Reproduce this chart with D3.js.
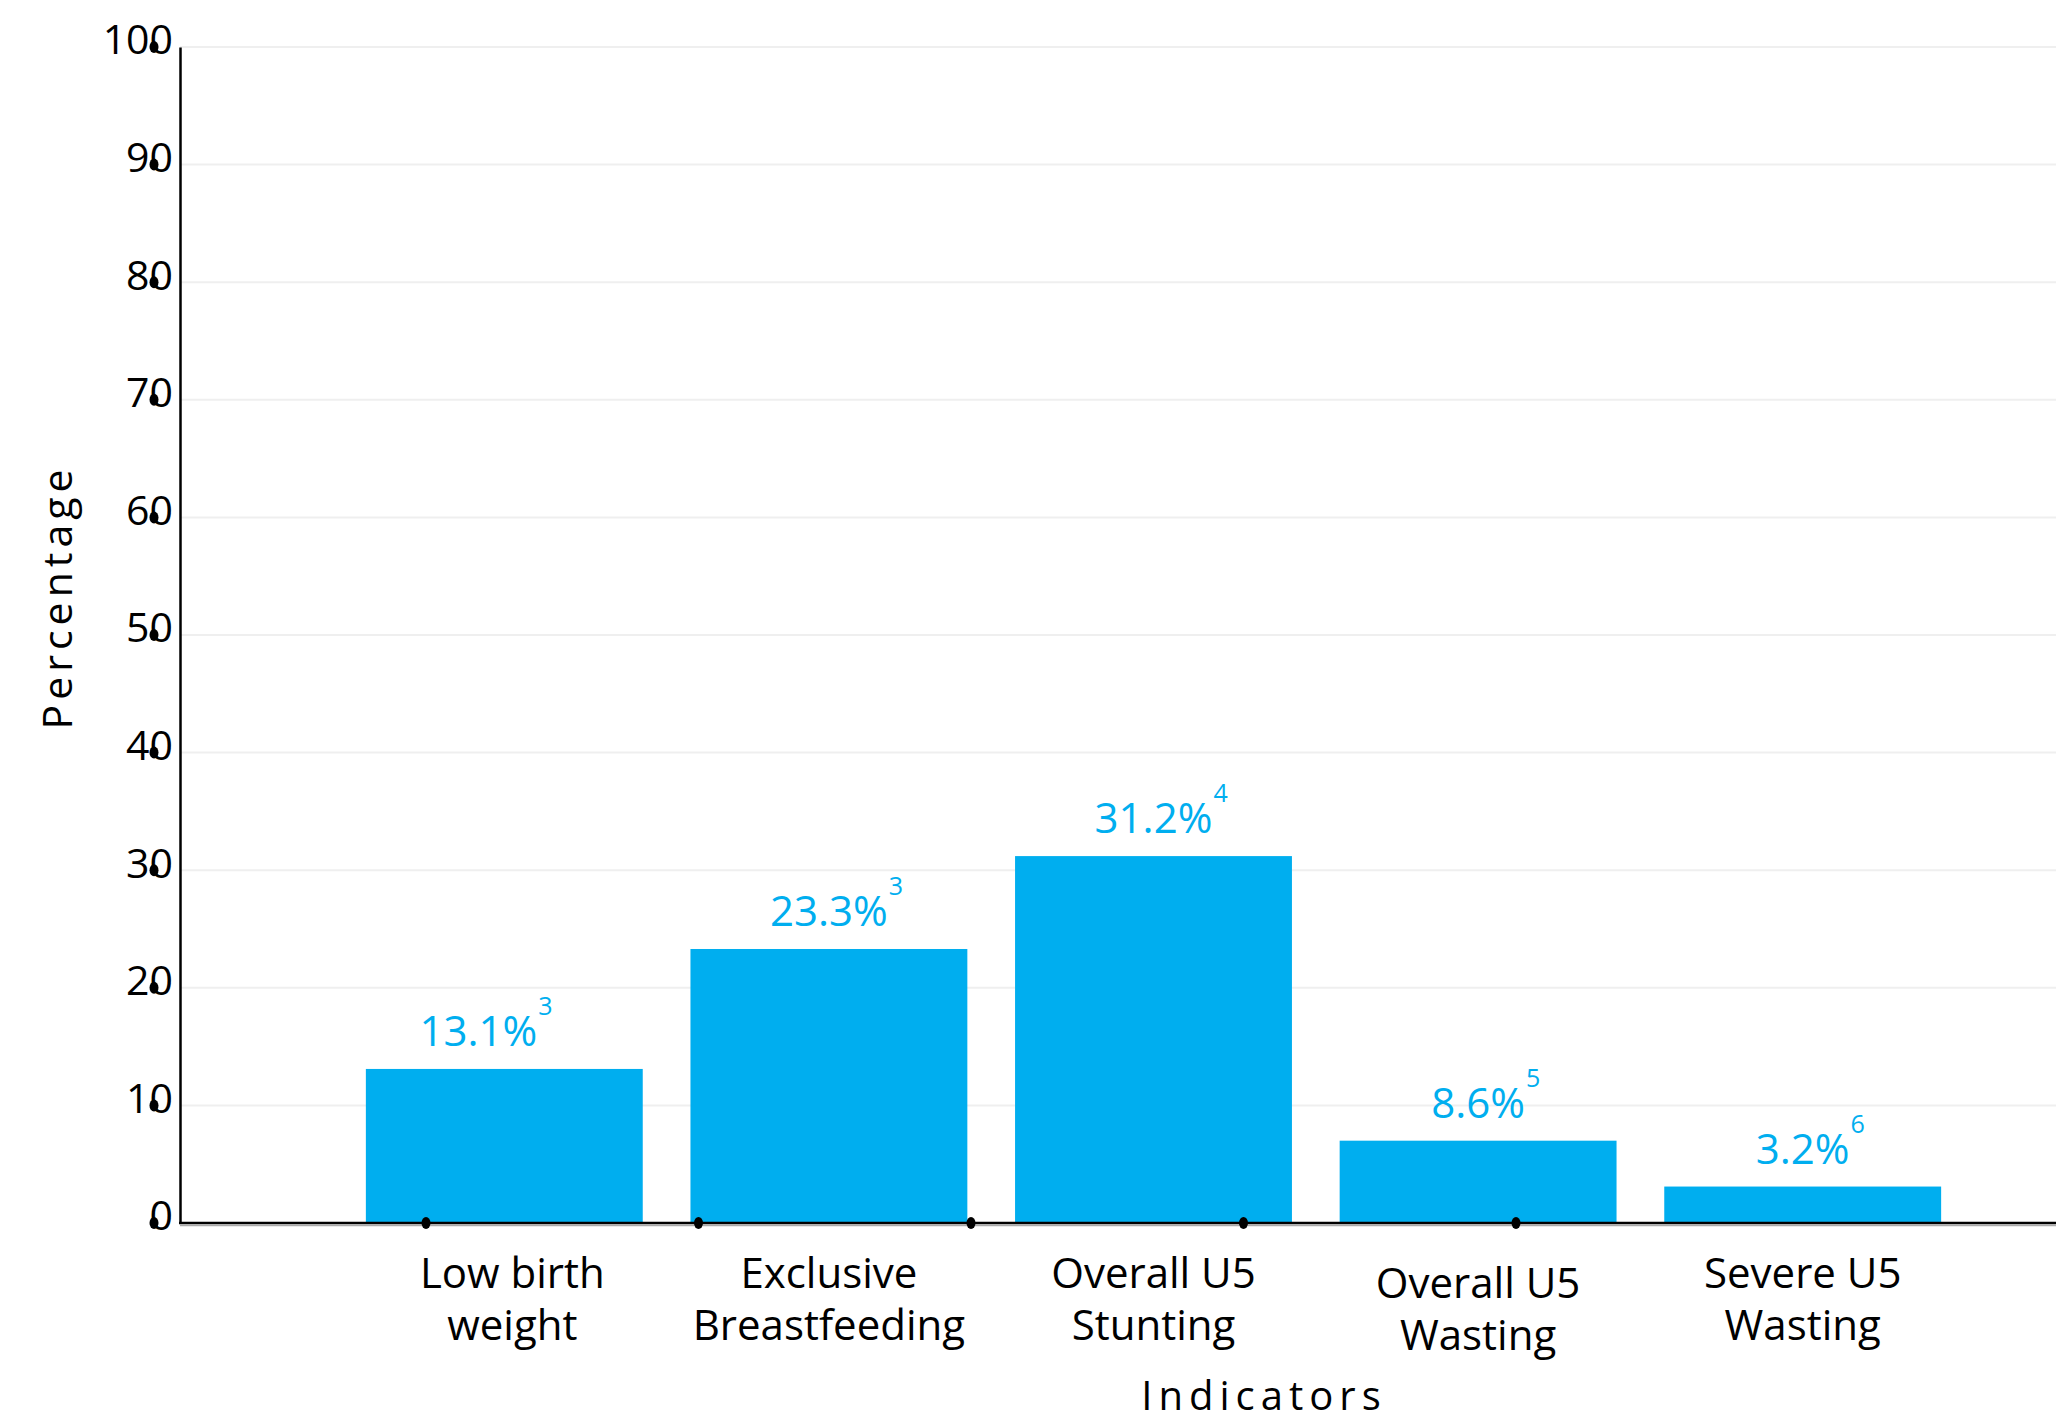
<!doctype html>
<html lang="en">
<head>
    <meta charset="utf-8">
    <title>Nutrition indicators</title>
    <script src="https://cdn.jsdelivr.net/npm/d3@7"></script>
    <style>
        body { margin: 0; background: #fff; }
        text { font-family: "Open Sans", sans-serif; }
    </style>
</head>
<body>
    <script>
    // data
    var categories = ["Low birth weight", "Exclusive Breastfeeding", "Overall U5 Stunting", "Overall U5 Wasting", "Severe U5 Wasting"];
    var categoryLines = [["Low birth", "weight"], ["Exclusive", "Breastfeeding"], ["Overall U5", "Stunting"], ["Overall U5", "Wasting"], ["Severe U5", "Wasting"]];
    var barValues = [13.1, 23.3, 31.2, 7.0, 3.1];
    var valueLabels = ["13.1%", "23.3%", "31.2%", "8.6%", "3.2%"];
    var footnotes = ["3", "3", "4", "5", "6"];
    var yTicks = [0, 10, 20, 30, 40, 50, 60, 70, 80, 90, 100];

    var blue = "#00AEEF";
    var left = 180, right = 2056;

    var svg = d3.select("body").append("svg")
            .attr("width", 2056).attr("height", 1421);

    var y = d3.scaleLinear().domain([0, 100]).range([1223, 47]);
    var x = d3.scaleBand().domain(categories).range([342, 1965])
            .paddingInner(0.147).paddingOuter(0.0735);
    // the odd tick dots on the x axis don't line up with the bars
    var xDots = d3.scalePoint().domain(categories).range([426, 1516]);

    // grid
    svg.append("g").selectAll("line")
        .data(yTicks.filter(function(d){ return d > 0; }))
        .join("line")
        .attr("x1", left).attr("x2", right)
        .attr("y1", function(d){ return y(d); })
        .attr("y2", function(d){ return y(d); })
        .attr("stroke", "#efefef").attr("stroke-width", 2);

    // bars
    svg.append("g").selectAll("rect")
        .data(barValues)
        .join("rect")
        .attr("x", function(d, i){ return x(categories[i]); })
        .attr("width", x.bandwidth())
        .attr("y", function(d){ return y(d); })
        .attr("height", function(d){ return y(0) - y(d); })
        .attr("fill", blue);

    // value labels + footnote numbers (first one sits a bit left in the original)
    function labelX(i) {
        return x(categories[i]) + x.bandwidth() / 2 + (i === 0 ? -26 : 0);
    }
    var labels = svg.append("g").selectAll("text")
        .data(barValues)
        .join("text")
        .attr("x", function(d, i){ return labelX(i); })
        .attr("y", function(d){ return y(d) - 23; })
        .attr("text-anchor", "middle")
        .attr("font-size", 42)
        .attr("fill", blue)
        .text(function(d, i){ return valueLabels[i]; });

    labels.each(function(d, i){
        var w = this.getComputedTextLength();
        svg.append("text")
            .attr("x", labelX(i) + w / 2 + 1)
            .attr("y", y(d) - 54)
            .attr("font-size", 25)
            .attr("fill", blue)
            .text(footnotes[i]);
    });

    // y axis
    var yAxis = svg.append("g")
        .attr("transform", "translate(" + left + ",0)")
        .call(d3.axisLeft(y).tickValues(yTicks).tickSize(0).tickPadding(7));
    yAxis.select(".domain").attr("stroke", "#000").attr("stroke-width", 2.5);
    yAxis.selectAll(".tick text")
        .attr("font-family", "Open Sans, sans-serif")
        .attr("font-size", 41)
        .attr("fill", "#000")
        .attr("dy", "0.17em");

    // x axis line
    svg.append("line")
        .attr("x1", left).attr("x2", right)
        .attr("y1", y(0) + 2.5).attr("y2", y(0) + 2.5)
        .attr("stroke", "#aaa").attr("stroke-width", 1.5);
    svg.append("line")
        .attr("x1", left - 1).attr("x2", right)
        .attr("y1", y(0)).attr("y2", y(0))
        .attr("stroke", "#000").attr("stroke-width", 2.5);

    // tick dots
    svg.append("g").selectAll("ellipse")
        .data(yTicks)
        .join("ellipse")
        .attr("cx", left - 26)
        .attr("cy", function(d){ return y(d); })
        .attr("rx", 4.5).attr("ry", 6)
        .attr("fill", "#000");
    svg.append("g").selectAll("ellipse")
        .data(categories)
        .join("ellipse")
        .attr("cx", function(d){ return xDots(d); })
        .attr("cy", y(0))
        .attr("rx", 4.5).attr("ry", 6)
        .attr("fill", "#000");

    // category labels
    var cats = svg.append("g").selectAll("text")
        .data(categoryLines)
        .join("text")
        .attr("text-anchor", "middle")
        .attr("font-size", 42)
        .attr("fill", "#000")
        .attr("transform", function(d, i){
            var shiftY = i === 3 ? 10 : 0;
            var shiftX = i === 0 ? 8 : 0;
            return "translate(" + (x(categories[i]) + x.bandwidth() / 2 + shiftX) + "," + (y(0) + 65 + shiftY) + ")";
        });
    cats.selectAll("tspan")
        .data(function(d){ return d; })
        .join("tspan")
        .attr("x", 0)
        .attr("dy", function(d, j){ return j === 0 ? 0 : 52; })
        .text(function(d){ return d; });

    // axis titles
    svg.append("text")
        .attr("x", 1264).attr("y", 1410)
        .attr("text-anchor", "middle")
        .attr("font-size", 40)
        .attr("letter-spacing", 6)
        .attr("fill", "#000")
        .text("Indicators");

    svg.append("text")
        .attr("transform", "translate(72,597) rotate(-90)")
        .attr("text-anchor", "middle")
        .attr("font-size", 41)
        .attr("letter-spacing", 5)
        .attr("fill", "#000")
        .text("Percentage");
    </script>
</body>
</html>
